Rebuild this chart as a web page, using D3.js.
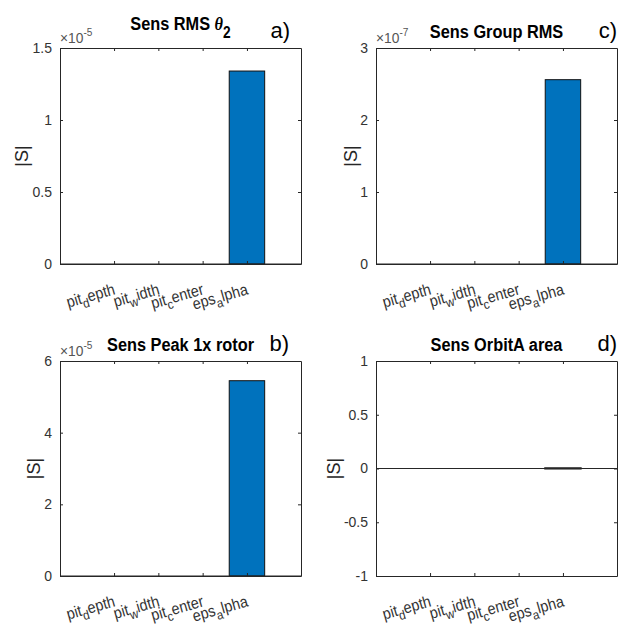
<!DOCTYPE html>
<html>
<head>
<meta charset="utf-8">
<script src="https://cdn.jsdelivr.net/npm/d3@7"></script>
<style>
  html, body { margin: 0; padding: 0; background: #fff; }
  svg text { font-family: "Liberation Sans", Arial, sans-serif; }
</style>
</head>
<body>
<svg id="fig" width="619" height="631"></svg>
<script>
// Sensitivity of each output to the four model parameters
const paramNames = ["pit_depth", "pit_width", "pit_center", "eps_alpha"];

const sensRMS    = [0, 0, 0, 1.34];   // ×10^-5
const sensGroup  = [0, 0, 0, 2.56];   // ×10^-7
const sensPeak   = [0, 0, 0, 5.45];   // ×10^-5
const sensOrbitA = [0, 0, 0, 0.002];

const ticksRMS   = [0, 0.5, 1, 1.5];
const ticksGroup = [0, 1, 2, 3];
const ticksPeak  = [0, 2, 4, 6];
const ticksOrbit = [-1, -0.5, 0, 0.5, 1];

const panels = [
  { values: sensRMS,    ticks: ticksRMS,   dom: [0, 1.5], exp: "-5", title: "rms",   tag: "a)",
    box: { l: 60,  r: 301, t: 48,  b: 264 }, tagX: 290, ylabX: 22 },
  { values: sensGroup,  ticks: ticksGroup, dom: [0, 3],   exp: "-7", title: "Sens Group RMS", tag: "c)",
    box: { l: 376, r: 617, t: 48,  b: 264 }, tagX: 617, ylabX: 351 },
  { values: sensPeak,   ticks: ticksPeak,  dom: [0, 6],   exp: "-5", title: "Sens Peak 1x rotor", tag: "b)",
    box: { l: 60,  r: 301, t: 361, b: 576 }, tagX: 289, ylabX: 34 },
  { values: sensOrbitA, ticks: ticksOrbit, dom: [-1, 1],  exp: null, title: "Sens OrbitA area", tag: "d)",
    box: { l: 376, r: 617, t: 361, b: 576 }, tagX: 617, ylabX: 334 }
];

const axisColor = "#262626";
const barColor = "#0072BD";
const narrow = 0.86;           // horizontal condensing of titles
const svg = d3.select("#fig");
const fmt = d => d3.format("~g")(d).replace("−", "-");

panels.forEach(p => {
  const B = p.box;
  const x = d3.scaleLinear().domain([-0.22, 5.22]).range([B.l, B.r]);
  const y = d3.scaleLinear().domain(p.dom).range([B.b, B.t]);
  const g = svg.append("g");
  const positions = paramNames.map((_, i) => i + 1);

  // bars
  g.selectAll("rect.bar").data(p.values).join("rect")
    .attr("class", "bar")
    .attr("x", (d, i) => x(positions[i] - 0.4))
    .attr("width", x(0.8) - x(0))
    .attr("y", d => y(Math.max(0, d)))
    .attr("height", d => Math.abs(y(d) - y(0)))
    .attr("fill", barColor)
    .attr("stroke", "#111")
    .attr("stroke-width", d => d === 0 ? 0 : (Math.abs(y(d) - y(0)) < 1 ? 2 : 1));

  // baseline of the bars
  g.append("line")
    .attr("x1", B.l).attr("x2", B.r)
    .attr("y1", y(0)).attr("y2", y(0))
    .attr("stroke", axisColor).attr("stroke-width", 1);

  // axes (box with inward ticks on all sides)
  const tl = 3;
  const axL = d3.axisLeft(y).tickValues(p.ticks).tickSizeInner(-tl).tickSizeOuter(0).tickPadding(8)
    .tickFormat(fmt);
  const axR = d3.axisRight(y).tickValues(p.ticks).tickSizeInner(-tl).tickSizeOuter(0).tickFormat("");
  const axB = d3.axisBottom(x).tickValues(positions).tickSizeInner(-tl).tickSizeOuter(0).tickFormat("");
  const axT = d3.axisTop(x).tickValues(positions).tickSizeInner(-tl).tickSizeOuter(0).tickFormat("");

  const gl = g.append("g").attr("transform", `translate(${B.l},0)`).call(axL);
  const gr = g.append("g").attr("transform", `translate(${B.r},0)`).call(axR);
  const gb = g.append("g").attr("transform", `translate(0,${B.b})`).call(axB);
  const gt = g.append("g").attr("transform", `translate(0,${B.t})`).call(axT);
  [gl, gr, gb, gt].forEach(a => {
    a.select(".domain").attr("stroke", axisColor).attr("stroke-width", 1);
    a.selectAll(".tick line").attr("stroke", axisColor);
  });
  gl.selectAll(".tick text")
    .attr("fill", "#333")
    .style("font-family", "'Liberation Sans', Arial, sans-serif")
    .style("font-size", "14px");

  // rotated parameter labels with TeX-style subscripts
  positions.forEach((pos, i) => {
    const parts = paramNames[i].split("_");
    const rest = parts[1];
    const t = g.append("text")
      .attr("transform", `translate(${x(pos) + 2},${B.b + 30}) rotate(-16) scale(0.9,1)`)
      .attr("text-anchor", "end")
      .attr("fill", "#333")
      .style("font-size", "16px");
    t.append("tspan").text(parts[0]);
    t.append("tspan").attr("dy", 5).style("font-size", "13px").text(rest[0]);
    t.append("tspan").attr("dy", -5).text(rest.slice(1));
  });

  // exponent multiplier
  if (p.exp) {
    const e = g.append("text")
      .attr("transform", `translate(${B.l},${B.t - 5}) scale(0.92,1)`)
      .attr("fill", "#555")
      .style("font-size", "15px");
    e.append("tspan").text("×10");
    e.append("tspan").attr("dy", -7).style("font-size", "11px").text(p.exp);
  }

  // y label
  g.append("text")
    .attr("transform", `translate(${p.ylabX},${(B.t + B.b) / 2}) rotate(-90)`)
    .attr("text-anchor", "middle")
    .attr("dominant-baseline", "central")
    .attr("fill", axisColor)
    .style("font-size", "18px")
    .text("|S|");

  // title
  const cx = (B.l + B.r) / 2;
  const ty = p.title === "rms" ? B.t - 18 : B.t - 10;
  const title = g.append("text")
    .attr("transform", `translate(${cx},${ty}) scale(${narrow},1)`)
    .attr("text-anchor", "middle")
    .attr("fill", "#000")
    .style("font-weight", "bold")
    .style("font-size", "19px");
  if (p.title === "rms") {
    title.append("tspan").text("Sens RMS ");
    title.append("tspan")
      .style("font-family", "'Liberation Serif', 'Times New Roman', serif")
      .style("font-style", "italic").text("θ");
    title.append("tspan").attr("dy", 8).style("font-size", "16px").text("2");
  } else {
    title.text(p.title);
  }

  // panel tag
  g.append("text")
    .attr("x", p.tagX).attr("y", B.t - 10)
    .attr("text-anchor", "end")
    .attr("fill", "#000")
    .style("font-size", "22px")
    .text(p.tag);
});
</script>
</body>
</html>
